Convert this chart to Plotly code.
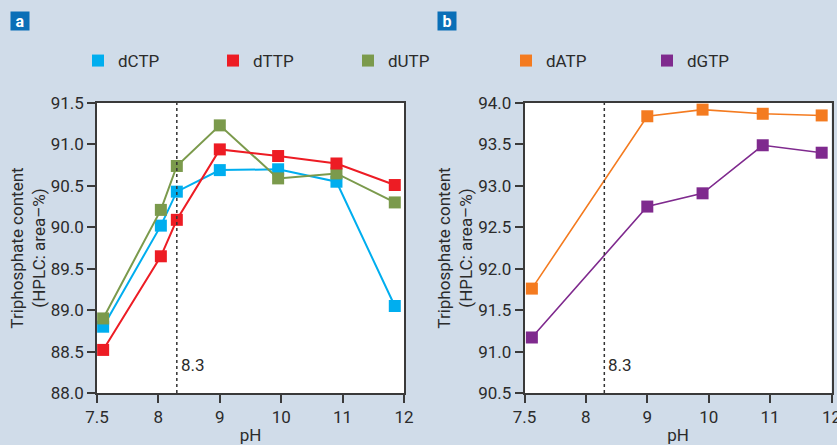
import numpy as np
import plotly.graph_objects as go

# ---------------- data ----------------
ph_ticks = [7.5, 8, 9, 10, 11, 12]
ph_tick_labels = ["7.5", "8", "9", "10", "11", "12"]

ph_a = [7.55, 8.04, 8.3, 9.0, 9.95, 10.9, 11.85]
dCTP = [88.80, 90.02, 90.43, 90.69, 90.70, 90.55, 89.05]
dTTP = [88.52, 89.65, 90.09, 90.94, 90.86, 90.77, 90.51]
dUTP = [88.90, 90.21, 90.74, 91.23, 90.59, 90.65, 90.30]

ph_b = [7.56, 9.0, 9.9, 10.88, 11.84]
dATP = [91.76, 93.84, 93.92, 93.87, 93.85]
dGTP = [91.17, 92.75, 92.91, 93.49, 93.40]

ph_mark = 8.3

# ---------------- styling ----------------
W, H = 837, 445
BG = "#d0dce9"
FONT = "Roboto, Liberation Sans, Arial, sans-serif"
TXT = "#2b2b2b"
AX = "#3a3a3a"

C_CTP = "#00aeef"
C_TTP = "#ed1c24"
C_UTP = "#7b9a4c"
C_ATP = "#f47b20"
C_GTP = "#7f2a8e"

# piecewise axis (7.5–8 is drawn as wide as one unit)
tick_pos = list(range(len(ph_ticks)))


def to_axis(v):
    return np.interp(v, ph_ticks, tick_pos)


def px(x):
    return x / W


def py(y):
    return 1 - y / H


fig = go.Figure()


def add_series(xs, ys, color, name, xa, ya, lw, legend, rank):
    fig.add_trace(go.Scatter(
        x=to_axis(xs), y=ys, mode="lines+markers", name=name,
        line=dict(color=color, width=lw),
        marker=dict(symbol="square", size=12, color=color),
        xaxis=xa, yaxis=ya, showlegend=False, cliponaxis=False))
    fig.add_trace(go.Scatter(
        x=[None], y=[None], mode="markers", name=name,
        marker=dict(symbol="square", size=12, color=color),
        xaxis=xa, yaxis=ya, showlegend=True, legend=legend, legendrank=rank))


add_series(ph_a, dCTP, C_CTP, "dCTP", "x", "y", 2, "legend", 1)
add_series(ph_a, dUTP, C_UTP, "dUTP", "x", "y", 2, "legend", 3)
add_series(ph_a, dTTP, C_TTP, "dTTP", "x", "y", 2, "legend", 2)
add_series(ph_b, dATP, C_ATP, "dATP", "x2", "y2", 1.6, "legend2", 1)
add_series(ph_b, dGTP, C_GTP, "dGTP", "x2", "y2", 1.6, "legend2", 2)

FS = 17
axis_common = dict(
    showline=True, linecolor=AX, linewidth=1.5, mirror=True,
    ticks="outside", ticklen=8, tickwidth=1.5, tickcolor=AX,
    showgrid=False, zeroline=False, automargin=False,
    tickfont=dict(family=FONT, size=FS, color=TXT),
)

xcommon = dict(axis_common, range=[0, 5], tickmode="array",
               tickvals=tick_pos, ticktext=ph_tick_labels,
               ticklabeloverflow="allow",
               title=dict(text="pH", font=dict(family=FONT, size=FS, color=TXT), standoff=4))
ytitle = dict(text="Triphosphate content<br>(HPLC: area–%)",
              font=dict(family=FONT, size=FS, color=TXT), standoff=1)

ydom = [py(393), py(103)]
fig.update_layout(
    width=W, height=H,
    margin=dict(l=0, r=0, t=0, b=0, autoexpand=False),
    paper_bgcolor=BG, plot_bgcolor="white",
    font=dict(family=FONT, color=TXT),
    xaxis=dict(xcommon, domain=[px(97), px(404)], anchor="y"),
    yaxis=dict(axis_common, domain=ydom, range=[88, 91.5], dtick=0.5,
               tickformat=".1f", anchor="x", title=ytitle),
    xaxis2=dict(xcommon, domain=[px(524.5), px(831.5)], anchor="y2"),
    yaxis2=dict(axis_common, domain=ydom, range=[90.5, 94], dtick=0.5,
                tickformat=".1f", anchor="x2", title=ytitle),
    legend=dict(orientation="h", x=px(78), y=py(61), yanchor="middle", xanchor="left",
                entrywidth=90, entrywidthmode="pixels", bgcolor="rgba(0,0,0,0)",
                font=dict(family=FONT, size=FS, color=TXT), itemclick=False,
                traceorder="normal"),
    legend2=dict(orientation="h", x=px(506), y=py(61), yanchor="middle", xanchor="left",
                 entrywidth=96, entrywidthmode="pixels", bgcolor="rgba(0,0,0,0)",
                 font=dict(family=FONT, size=FS, color=TXT), itemclick=False),
    showlegend=True,
)

# dashed pH 8.3 markers
for xa, ya in (("x", "y"), ("x2", "y2")):
    fig.add_shape(type="line", xref=xa, yref=f"{ya} domain",
                  x0=float(to_axis(ph_mark)), x1=float(to_axis(ph_mark)), y0=0, y1=1,
                  line=dict(color="#333333", width=1.5, dash="3px,3px"))
    fig.add_annotation(xref=xa, yref=f"{ya} domain", x=float(to_axis(ph_mark)), y=0.055,
                       text=str(ph_mark), showarrow=False, xanchor="left", xshift=2,
                       font=dict(family=FONT, size=FS, color=TXT))

# panel labels
for lab, x0 in (("a", 10), ("b", 437)):
    fig.add_annotation(xref="paper", yref="paper", x=px(x0), y=py(11),
                       xanchor="left", yanchor="top", text=f"<b>{lab}</b>",
                       showarrow=False, bgcolor="#0a6fb7", width=18, height=18,
                       borderpad=0, font=dict(family=FONT, size=16, color="white"))

fig.write_html("out.html", config={"displayModeBar": False},
               post_script="document.body.style.margin='0';"
                           "document.body.style.background='" + BG + "';")
